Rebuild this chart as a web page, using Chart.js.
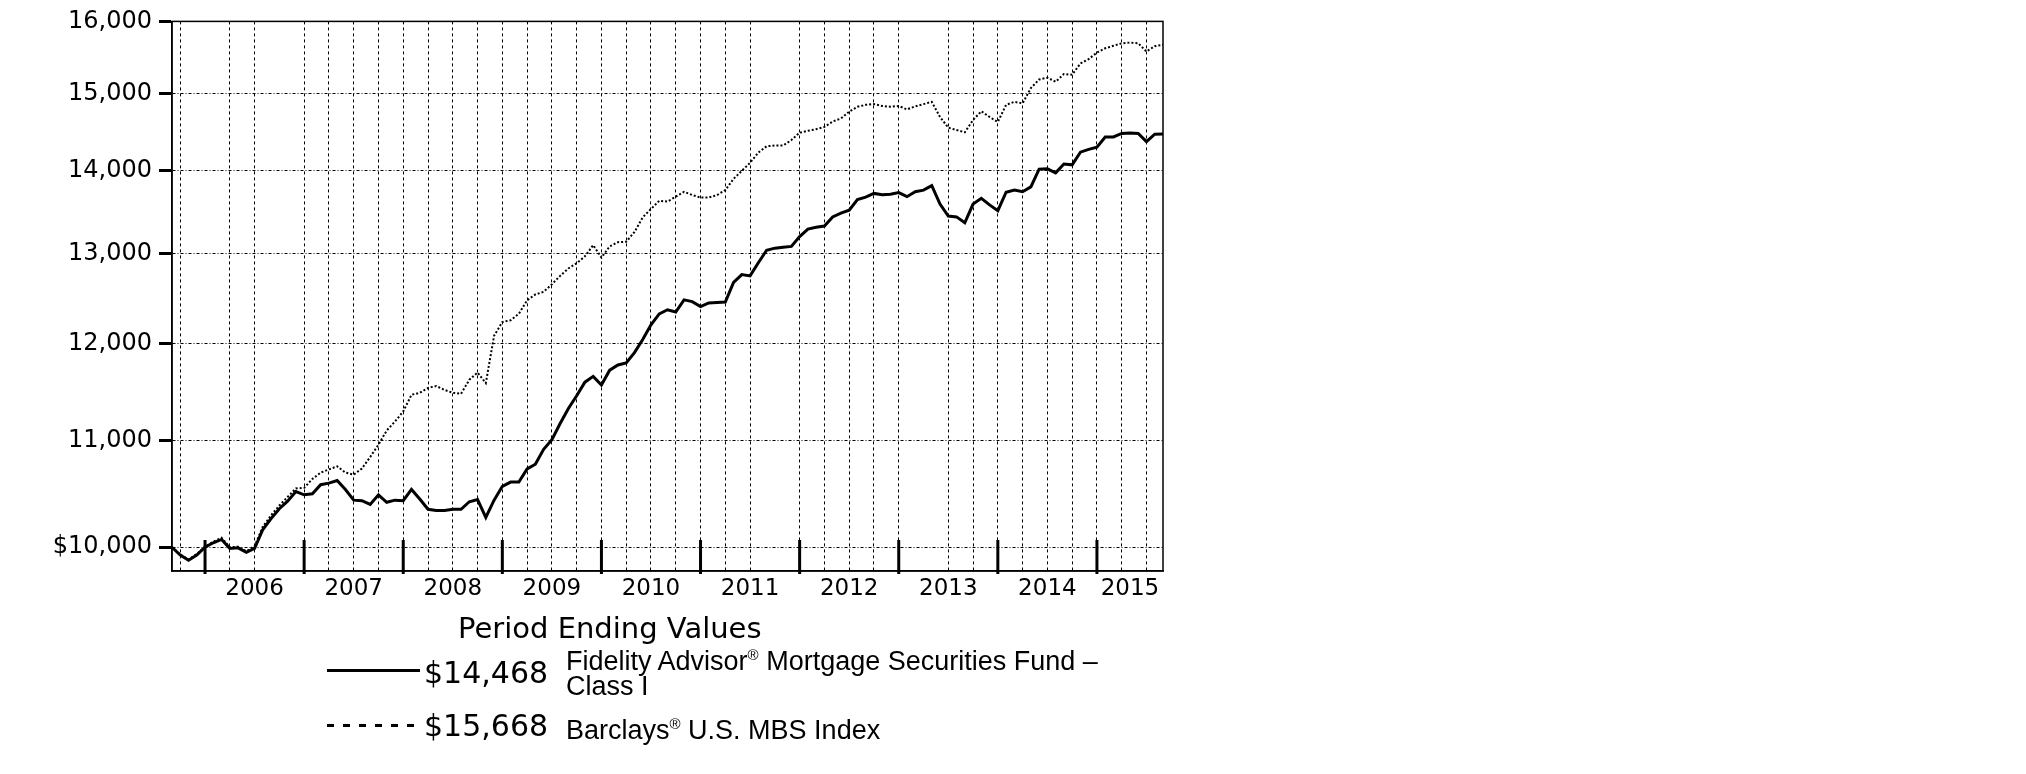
<!DOCTYPE html>
<html>
<head>
<meta charset="utf-8">
<title>Hypothetical growth of $10,000</title>
<script src="https://cdn.jsdelivr.net/npm/chart.js@4.4.1/dist/chart.umd.min.js"></script>
<style>
  html, body { margin: 0; padding: 0; background: #fff; }
  #wrap { position: relative; width: 2026px; height: 774px; overflow: hidden; }
  #growthChart { position: absolute; left: 0; top: 0; }
  .lg { position: absolute; color: #000; white-space: nowrap; line-height: 1; }
  .num { font-family: "DejaVu Sans", sans-serif; font-size: 30px; }
  .name { font-family: "Liberation Sans", Arial, sans-serif; font-size: 27px; }
  .name sup { font-size: 15px; vertical-align: 10px; }
  #lgTitle { left: 458px; top: 614px; font-family: "DejaVu Sans", sans-serif; font-size: 29px; }
  #lineFund { left: 327px; top: 669px; width: 93px; height: 3px; background: #000; }
  #lineIndex { left: 327px; top: 724px; width: 92px; height: 3px;
    background: repeating-linear-gradient(to right, #000 0 7px, transparent 7px 16px); }
  #valFund { left: 424px; top: 658px; }
  #valIndex { left: 424px; top: 711px; }
  #nameFund1 { left: 566px; top: 647px; }
  #nameFund2 { left: 566px; top: 673px; }
  #nameIndex { left: 566px; top: 716px; }
</style>
</head>
<body>
<div id="wrap">
  <canvas id="growthChart" width="2026" height="774"></canvas>
  <div id="lgTitle" class="lg">Period Ending Values</div>
  <div id="lineFund" class="lg"></div>
  <div id="lineIndex" class="lg"></div>
  <div id="valFund" class="lg num"></div>
  <div id="valIndex" class="lg num"></div>
  <div id="nameFund1" class="lg name">Fidelity Advisor<sup>®</sup> Mortgage Securities Fund –</div>
  <div id="nameFund2" class="lg name">Class I</div>
  <div id="nameIndex" class="lg name">Barclays<sup>®</sup> U.S. MBS Index</div>
</div>
<script>
// month 0 = Aug 2005 ... month 120 = Aug 2015
var fundValues = [
    10000, 9930, 9885, 9930, 10000, 10040, 10070, 9990, 9995, 9955,
    9990, 10160, 10260, 10350, 10420, 10510, 10480, 10490, 10575, 10590,
    10615, 10530, 10430, 10425, 10390, 10480, 10410, 10430, 10425, 10530,
    10440, 10345, 10335, 10335, 10345, 10345, 10415, 10435, 10270, 10430,
    10560, 10600, 10600, 10725, 10770, 10915, 11010, 11170, 11320, 11450,
    11590, 11650, 11560, 11715, 11770, 11790, 11900, 12040, 12200, 12320,
    12365, 12340, 12475, 12455, 12400, 12440, 12445, 12450, 12670, 12760,
    12745, 12895, 13040, 13065, 13075, 13085, 13200, 13290, 13310, 13325,
    13435, 13480, 13515, 13645, 13675, 13720, 13705, 13710, 13730, 13680,
    13740, 13760, 13815, 13590, 13445, 13435, 13365, 13590, 13660, 13580,
    13510, 13735, 13760, 13740, 13800, 14020, 14025, 13975, 14085, 14075,
    14235, 14270, 14300, 14430, 14430, 14475, 14480, 14475, 14370, 14465,
    14468
];
var indexValues = [
    10000, 9935, 9890, 9940, 10005, 10050, 10085, 10000, 10005, 9965,
    10010, 10185, 10290, 10380, 10460, 10540, 10545, 10630, 10690, 10720,
    10750, 10690, 10670, 10730, 10840, 10960, 11100, 11190, 11290, 11460,
    11480, 11530, 11550, 11510, 11480, 11470, 11615, 11690, 11580, 12080,
    12230, 12250, 12320, 12470, 12535, 12565, 12650, 12745, 12830, 12890,
    12970, 13100, 12955, 13085, 13135, 13140, 13255, 13430, 13530, 13630,
    13620, 13680, 13740, 13700, 13670, 13670, 13700, 13760, 13900, 14000,
    14100, 14230, 14310, 14320, 14320, 14390, 14485, 14510, 14530, 14560,
    14630, 14670, 14760, 14825, 14850, 14860, 14835, 14825, 14835, 14790,
    14830, 14860, 14890, 14690, 14550, 14520, 14490, 14650, 14765, 14690,
    14625, 14850, 14890, 14870, 15075, 15190, 15215, 15160, 15265, 15255,
    15410, 15470, 15560, 15620, 15655, 15690, 15700, 15690, 15575, 15650,
    15668
];
var seriesNames = ['Fidelity Advisor Mortgage Securities Fund - Class I', 'Barclays U.S. MBS Index'];
var yearLabels = ['2006', '2007', '2008', '2009', '2010', '2011', '2012', '2013', '2014', '2015'];
var yearEndMonths = [4, 16, 28, 40, 52, 64, 76, 88, 100, 112];   // December of each year
var lastMonth = 120;
var gridMonths = [1, 7, 10, 16, 19, 22, 25, 28, 31, 34, 37, 40, 43, 46, 49, 52, 55, 58, 61, 64,
    67, 70, 76, 79, 82, 85, 88, 94, 97, 100, 103, 106, 109, 112, 115, 118];
var yTicks = [10000, 11000, 12000, 13000, 14000, 15000, 16000];
var yMin = 9790;
var yMax = 16000;

function fmt(v) {
    return v.toLocaleString('en-US');
}

document.getElementById('valFund').textContent = '$' + fmt(fundValues[fundValues.length - 1]);
document.getElementById('valIndex').textContent = '$' + fmt(indexValues[indexValues.length - 1]);

// year labels sit in the middle of each year span
var yearCenters = yearEndMonths.map(function (m, i) {
    var next = i + 1 < yearEndMonths.length ? yearEndMonths[i + 1] : lastMonth;
    return (m + next) / 2;
});

Chart.defaults.font.family = '"DejaVu Sans", sans-serif';
Chart.defaults.color = '#000';

var frameAndTicks = {
    id: 'frameAndTicks',
    afterDraw: function (chart) {
        var ctx = chart.ctx, a = chart.chartArea, xs = chart.scales.x;
        ctx.save();
        ctx.strokeStyle = '#000';
        ctx.lineWidth = 1.5;
        ctx.strokeRect(a.left, a.top, a.right - a.left, a.bottom - a.top);
        ctx.lineWidth = 3;
        yearEndMonths.forEach(function (m) {
            var x = xs.getPixelForValue(m);
            ctx.beginPath();
            ctx.moveTo(x, a.bottom - 31);
            ctx.lineTo(x, a.bottom + 3);
            ctx.stroke();
        });
        ctx.restore();
    }
};

var growthChart = new Chart(document.getElementById('growthChart'), {
    type: 'line',
    data: {
        datasets: [
            {
                label: seriesNames[0],
                data: fundValues.map(function (v, i) { return {x: i, y: v}; }),
                borderColor: '#000',
                borderWidth: 3,
                pointRadius: 0,
                tension: 0
            },
            {
                label: seriesNames[1],
                data: indexValues.map(function (v, i) { return {x: i, y: v}; }),
                borderColor: '#000',
                borderWidth: 2,
                borderDash: [2, 2],
                pointRadius: 0,
                tension: 0
            }
        ]
    },
    options: {
        responsive: false,
        animation: false,
        layout: {padding: {left: 0, top: 15, right: 863, bottom: 153}},
        plugins: {legend: {display: false}, tooltip: {enabled: false}},
        scales: {
            x: {
                type: 'linear',
                position: 'bottom',
                min: 0,
                max: lastMonth,
                afterBuildTicks: function (scale) {
                    scale.ticks = gridMonths.map(function (m) { return {value: m}; });
                },
                afterFit: function (scale) { scale.height = 0; },
                ticks: {display: false},
                grid: {color: '#000', lineWidth: 1, drawTicks: false},
                border: {display: true, color: '#000', width: 1.5, dash: [3, 3]}
            },
            years: {
                type: 'linear',
                position: 'bottom',
                min: 0,
                max: lastMonth,
                afterBuildTicks: function (scale) {
                    scale.ticks = yearCenters.map(function (m) { return {value: m}; });
                },
                afterFit: function (scale) { scale.height = 50; },
                ticks: {
                    autoSkip: false,
                    maxRotation: 0,
                    padding: 4,
                    font: {size: 23},
                    callback: function (value, index) { return yearLabels[index]; }
                },
                grid: {display: false, drawTicks: false},
                border: {display: false}
            },
            y: {
                type: 'logarithmic',
                min: yMin,
                max: yMax,
                afterBuildTicks: function (scale) {
                    scale.ticks = yTicks.map(function (v) { return {value: v}; });
                },
                afterFit: function (scale) { scale.width = 172; },
                ticks: {
                    padding: 7,
                    font: {size: 24},
                    callback: function (value) {
                        return (value === yTicks[0] ? '$' : '') + fmt(value);
                    }
                },
                grid: {
                    color: '#000',
                    lineWidth: 1,
                    tickLength: 13,
                    tickWidth: 3,
                    tickColor: '#000',
                    tickBorderDash: [1, 0]
                },
                border: {display: true, color: '#000', width: 1.5, dash: [3, 2, 1, 2]}
            }
        }
    },
    plugins: [frameAndTicks]
});
</script>
</body>
</html>
